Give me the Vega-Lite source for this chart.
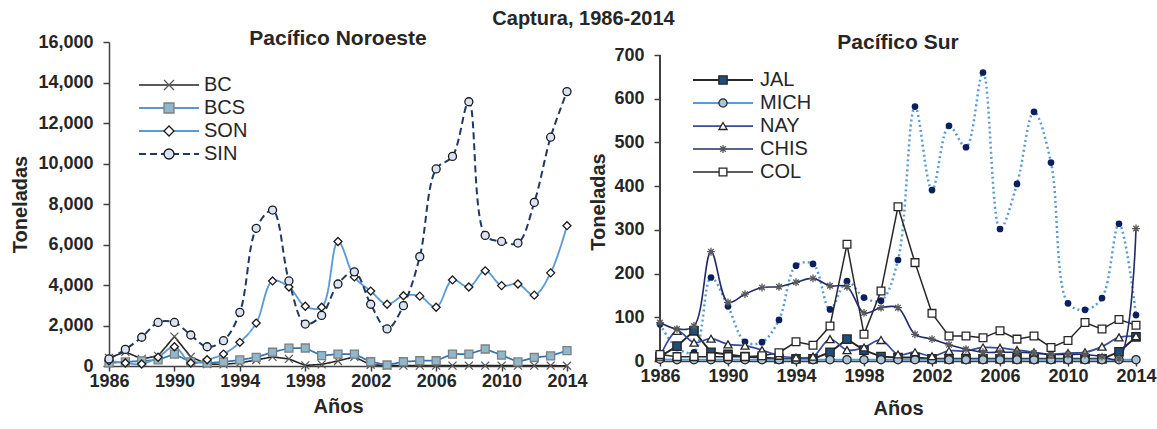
{
  "$schema": "https://vega.github.io/schema/vega-lite/v6.json",
  "padding": {"left": 10, "top": 9, "right": 0, "bottom": 0},
  "background": "white",
  "title": {"text": "Captura, 1986-2014", "anchor": "middle", "fontSize": 20, "font": "Liberation Sans", "fontWeight": "bold", "color": "#262626", "offset": -1},
  "spacing": 0,
  "resolve": {
    "scale": {"color": "independent", "shape": "independent", "fill": "independent", "stroke": "independent", "strokeDash": "independent", "strokeWidth": "independent", "size": "independent"},
    "legend": {"color": "independent", "shape": "independent", "fill": "independent", "stroke": "independent", "strokeDash": "independent", "strokeWidth": "independent", "size": "independent"}
  },
  "config": {
    "view": {"stroke": null},
    "font": "Liberation Sans",
    "title": {"font": "Liberation Sans", "fontWeight": "bold", "fontSize": 21, "color": "#262626"},
    "axis": {"grid": false, "labelFont": "Liberation Sans", "labelFontWeight": "bold", "labelFontSize": 18, "labelColor": "#262626", "titleFont": "Liberation Sans", "titleFontWeight": "bold", "titleFontSize": 20, "titleColor": "#262626", "domainColor": "#404040", "tickColor": "#404040", "domainWidth": 1.5, "tickWidth": 1.5, "tickSize": 6},
    "legend": {"labelFont": "Liberation Sans", "labelFontSize": 20, "labelColor": "#262626", "padding": 0, "rowPadding": 3}
  },
  "datasets": {
    "noroeste": [
      {"state":"BC","year":1986,"value":400},{"state":"BC","year":1987,"value":700},{"state":"BC","year":1988,"value":350},{"state":"BC","year":1989,"value":500},{"state":"BC","year":1990,"value":1450},{"state":"BC","year":1991,"value":450},{"state":"BC","year":1992,"value":100},{"state":"BC","year":1993,"value":80},{"state":"BC","year":1994,"value":150},{"state":"BC","year":1995,"value":300},{"state":"BC","year":1996,"value":450},{"state":"BC","year":1997,"value":350},{"state":"BC","year":1998,"value":30},{"state":"BC","year":1999,"value":80},{"state":"BC","year":2000,"value":250},{"state":"BC","year":2001,"value":450},{"state":"BC","year":2002,"value":60},{"state":"BC","year":2003,"value":20},{"state":"BC","year":2004,"value":20},{"state":"BC","year":2005,"value":20},{"state":"BC","year":2006,"value":20},{"state":"BC","year":2007,"value":20},{"state":"BC","year":2008,"value":20},{"state":"BC","year":2009,"value":20},{"state":"BC","year":2010,"value":20},{"state":"BC","year":2011,"value":20},{"state":"BC","year":2012,"value":20},{"state":"BC","year":2013,"value":20},{"state":"BC","year":2014,"value":10},
      {"state":"BCS","year":1986,"value":150},{"state":"BCS","year":1987,"value":200},{"state":"BCS","year":1988,"value":250},{"state":"BCS","year":1989,"value":300},{"state":"BCS","year":1990,"value":590},{"state":"BCS","year":1991,"value":200},{"state":"BCS","year":1992,"value":150},{"state":"BCS","year":1993,"value":200},{"state":"BCS","year":1994,"value":300},{"state":"BCS","year":1995,"value":430},{"state":"BCS","year":1996,"value":680},{"state":"BCS","year":1997,"value":880},{"state":"BCS","year":1998,"value":890},{"state":"BCS","year":1999,"value":510},{"state":"BCS","year":2000,"value":590},{"state":"BCS","year":2001,"value":590},{"state":"BCS","year":2002,"value":210},{"state":"BCS","year":2003,"value":50},{"state":"BCS","year":2004,"value":210},{"state":"BCS","year":2005,"value":260},{"state":"BCS","year":2006,"value":260},{"state":"BCS","year":2007,"value":590},{"state":"BCS","year":2008,"value":590},{"state":"BCS","year":2009,"value":840},{"state":"BCS","year":2010,"value":540},{"state":"BCS","year":2011,"value":200},{"state":"BCS","year":2012,"value":420},{"state":"BCS","year":2013,"value":500},{"state":"BCS","year":2014,"value":760},
      {"state":"SON","year":1986,"value":260},{"state":"SON","year":1987,"value":150},{"state":"SON","year":1988,"value":100},{"state":"SON","year":1989,"value":430},{"state":"SON","year":1990,"value":950},{"state":"SON","year":1991,"value":150},{"state":"SON","year":1992,"value":310},{"state":"SON","year":1993,"value":590},{"state":"SON","year":1994,"value":1170},{"state":"SON","year":1995,"value":2120},{"state":"SON","year":1996,"value":4200},{"state":"SON","year":1997,"value":3900},{"state":"SON","year":1998,"value":2950},{"state":"SON","year":1999,"value":2900},{"state":"SON","year":2000,"value":6150},{"state":"SON","year":2001,"value":4400},{"state":"SON","year":2002,"value":3700},{"state":"SON","year":2003,"value":3050},{"state":"SON","year":2004,"value":3470},{"state":"SON","year":2005,"value":3450},{"state":"SON","year":2006,"value":2900},{"state":"SON","year":2007,"value":4250},{"state":"SON","year":2008,"value":3900},{"state":"SON","year":2009,"value":4700},{"state":"SON","year":2010,"value":3970},{"state":"SON","year":2011,"value":4050},{"state":"SON","year":2012,"value":3500},{"state":"SON","year":2013,"value":4600},{"state":"SON","year":2014,"value":6930},
      {"state":"SIN","year":1986,"value":350},{"state":"SIN","year":1987,"value":820},{"state":"SIN","year":1988,"value":1420},{"state":"SIN","year":1989,"value":2150},{"state":"SIN","year":1990,"value":2150},{"state":"SIN","year":1991,"value":1530},{"state":"SIN","year":1992,"value":950},{"state":"SIN","year":1993,"value":1250},{"state":"SIN","year":1994,"value":2650},{"state":"SIN","year":1995,"value":6800},{"state":"SIN","year":1996,"value":7700},{"state":"SIN","year":1997,"value":4200},{"state":"SIN","year":1998,"value":2070},{"state":"SIN","year":1999,"value":2500},{"state":"SIN","year":2000,"value":4050},{"state":"SIN","year":2001,"value":4650},{"state":"SIN","year":2002,"value":3050},{"state":"SIN","year":2003,"value":1830},{"state":"SIN","year":2004,"value":2980},{"state":"SIN","year":2005,"value":5400},{"state":"SIN","year":2006,"value":9730},{"state":"SIN","year":2007,"value":10350},{"state":"SIN","year":2008,"value":13050},{"state":"SIN","year":2009,"value":6450},{"state":"SIN","year":2010,"value":6150},{"state":"SIN","year":2011,"value":6070},{"state":"SIN","year":2012,"value":8080},{"state":"SIN","year":2013,"value":11300},{"state":"SIN","year":2014,"value":13550}
    ],
    "sur": [
      {"state":"JAL","year":1986,"value":10},{"state":"JAL","year":1987,"value":34},{"state":"JAL","year":1988,"value":69},{"state":"JAL","year":1989,"value":20},{"state":"JAL","year":1990,"value":15},{"state":"JAL","year":1991,"value":10},{"state":"JAL","year":1992,"value":8},{"state":"JAL","year":1993,"value":5},{"state":"JAL","year":1994,"value":5},{"state":"JAL","year":1995,"value":5},{"state":"JAL","year":1996,"value":20},{"state":"JAL","year":1997,"value":50},{"state":"JAL","year":1998,"value":25},{"state":"JAL","year":1999,"value":10},{"state":"JAL","year":2000,"value":8},{"state":"JAL","year":2001,"value":8},{"state":"JAL","year":2002,"value":5},{"state":"JAL","year":2003,"value":5},{"state":"JAL","year":2004,"value":5},{"state":"JAL","year":2005,"value":5},{"state":"JAL","year":2006,"value":5},{"state":"JAL","year":2007,"value":5},{"state":"JAL","year":2008,"value":5},{"state":"JAL","year":2009,"value":5},{"state":"JAL","year":2010,"value":5},{"state":"JAL","year":2011,"value":5},{"state":"JAL","year":2012,"value":5},{"state":"JAL","year":2013,"value":21},{"state":"JAL","year":2014,"value":55},
      {"state":"MICH","year":1986,"value":4},{"state":"MICH","year":1987,"value":3},{"state":"MICH","year":1988,"value":3},{"state":"MICH","year":1989,"value":3},{"state":"MICH","year":1990,"value":3},{"state":"MICH","year":1991,"value":3},{"state":"MICH","year":1992,"value":3},{"state":"MICH","year":1993,"value":3},{"state":"MICH","year":1994,"value":3},{"state":"MICH","year":1995,"value":3},{"state":"MICH","year":1996,"value":3},{"state":"MICH","year":1997,"value":3},{"state":"MICH","year":1998,"value":3},{"state":"MICH","year":1999,"value":3},{"state":"MICH","year":2000,"value":3},{"state":"MICH","year":2001,"value":3},{"state":"MICH","year":2002,"value":3},{"state":"MICH","year":2003,"value":3},{"state":"MICH","year":2004,"value":3},{"state":"MICH","year":2005,"value":3},{"state":"MICH","year":2006,"value":3},{"state":"MICH","year":2007,"value":3},{"state":"MICH","year":2008,"value":3},{"state":"MICH","year":2009,"value":3},{"state":"MICH","year":2010,"value":3},{"state":"MICH","year":2011,"value":3},{"state":"MICH","year":2012,"value":3},{"state":"MICH","year":2013,"value":3},{"state":"MICH","year":2014,"value":3},
      {"state":"NAY","year":1986,"value":10},{"state":"NAY","year":1987,"value":69},{"state":"NAY","year":1988,"value":42},{"state":"NAY","year":1989,"value":51},{"state":"NAY","year":1990,"value":38},{"state":"NAY","year":1991,"value":35},{"state":"NAY","year":1992,"value":25},{"state":"NAY","year":1993,"value":12},{"state":"NAY","year":1994,"value":8},{"state":"NAY","year":1995,"value":10},{"state":"NAY","year":1996,"value":50},{"state":"NAY","year":1997,"value":25},{"state":"NAY","year":1998,"value":31},{"state":"NAY","year":1999,"value":48},{"state":"NAY","year":2000,"value":15},{"state":"NAY","year":2001,"value":20},{"state":"NAY","year":2002,"value":11},{"state":"NAY","year":2003,"value":23},{"state":"NAY","year":2004,"value":23},{"state":"NAY","year":2005,"value":31},{"state":"NAY","year":2006,"value":30},{"state":"NAY","year":2007,"value":25},{"state":"NAY","year":2008,"value":20},{"state":"NAY","year":2009,"value":15},{"state":"NAY","year":2010,"value":18},{"state":"NAY","year":2011,"value":20},{"state":"NAY","year":2012,"value":33},{"state":"NAY","year":2013,"value":54},{"state":"NAY","year":2014,"value":57},
      {"state":"CHIS","year":1986,"value":88},{"state":"CHIS","year":1987,"value":73},{"state":"CHIS","year":1988,"value":80},{"state":"CHIS","year":1989,"value":250},{"state":"CHIS","year":1990,"value":134},{"state":"CHIS","year":1991,"value":153},{"state":"CHIS","year":1992,"value":168},{"state":"CHIS","year":1993,"value":170},{"state":"CHIS","year":1994,"value":180},{"state":"CHIS","year":1995,"value":189},{"state":"CHIS","year":1996,"value":172},{"state":"CHIS","year":1997,"value":170},{"state":"CHIS","year":1998,"value":110},{"state":"CHIS","year":1999,"value":122},{"state":"CHIS","year":2000,"value":122},{"state":"CHIS","year":2001,"value":61},{"state":"CHIS","year":2002,"value":50},{"state":"CHIS","year":2003,"value":37},{"state":"CHIS","year":2004,"value":27},{"state":"CHIS","year":2005,"value":20},{"state":"CHIS","year":2006,"value":20},{"state":"CHIS","year":2007,"value":20},{"state":"CHIS","year":2008,"value":18},{"state":"CHIS","year":2009,"value":15},{"state":"CHIS","year":2010,"value":15},{"state":"CHIS","year":2011,"value":15},{"state":"CHIS","year":2012,"value":10},{"state":"CHIS","year":2013,"value":5},{"state":"CHIS","year":2014,"value":303},
      {"state":"COL","year":1986,"value":15},{"state":"COL","year":1987,"value":10},{"state":"COL","year":1988,"value":10},{"state":"COL","year":1989,"value":10},{"state":"COL","year":1990,"value":10},{"state":"COL","year":1991,"value":10},{"state":"COL","year":1992,"value":12},{"state":"COL","year":1993,"value":19},{"state":"COL","year":1994,"value":44},{"state":"COL","year":1995,"value":36},{"state":"COL","year":1996,"value":80},{"state":"COL","year":1997,"value":267},{"state":"COL","year":1998,"value":61},{"state":"COL","year":1999,"value":160},{"state":"COL","year":2000,"value":353},{"state":"COL","year":2001,"value":225},{"state":"COL","year":2002,"value":109},{"state":"COL","year":2003,"value":57},{"state":"COL","year":2004,"value":57},{"state":"COL","year":2005,"value":53},{"state":"COL","year":2006,"value":69},{"state":"COL","year":2007,"value":50},{"state":"COL","year":2008,"value":57},{"state":"COL","year":2009,"value":31},{"state":"COL","year":2010,"value":47},{"state":"COL","year":2011,"value":88},{"state":"COL","year":2012,"value":73},{"state":"COL","year":2013,"value":95},{"state":"COL","year":2014,"value":82},
      {"state":"Otro","year":1986,"value":84},{"state":"Otro","year":1987,"value":30},{"state":"Otro","year":1988,"value":20},{"state":"Otro","year":1989,"value":191},{"state":"Otro","year":1990,"value":125},{"state":"Otro","year":1991,"value":44},{"state":"Otro","year":1992,"value":43},{"state":"Otro","year":1993,"value":94},{"state":"Otro","year":1994,"value":218},{"state":"Otro","year":1995,"value":222},{"state":"Otro","year":1996,"value":118},{"state":"Otro","year":1997,"value":183},{"state":"Otro","year":1998,"value":145},{"state":"Otro","year":1999,"value":138},{"state":"Otro","year":2000,"value":231},{"state":"Otro","year":2001,"value":582},{"state":"Otro","year":2002,"value":391},{"state":"Otro","year":2003,"value":538},{"state":"Otro","year":2004,"value":489},{"state":"Otro","year":2005,"value":660},{"state":"Otro","year":2006,"value":302},{"state":"Otro","year":2007,"value":405},{"state":"Otro","year":2008,"value":570},{"state":"Otro","year":2009,"value":454},{"state":"Otro","year":2010,"value":132},{"state":"Otro","year":2011,"value":117},{"state":"Otro","year":2012,"value":144},{"state":"Otro","year":2013,"value":314},{"state":"Otro","year":2014,"value":105}
    ]
  },
  "hconcat": [
    {
      "width": 458,
      "height": 324,
      "title": {"text": "Pacífico Noroeste", "offset": -16},
      "data": {"name": "noroeste"},
      "encoding": {
        "x": {"field": "year", "type": "quantitative", "scale": {"domain": [1986, 2014], "nice": false, "zero": false}, "axis": {"values": [1986, 1990, 1994, 1998, 2002, 2006, 2010, 2014], "format": "d", "title": "Años", "labelFlush": false, "labelPadding": 1, "titlePadding": 6, "tickSize": 5}},
        "y": {"field": "value", "type": "quantitative", "scale": {"domain": [0, 16000], "nice": false}, "axis": {"values": [0, 2000, 4000, 6000, 8000, 10000, 12000, 14000, 16000], "format": ",d", "title": "Toneladas", "labelPadding": 10, "titlePadding": 7, "labelFlush": false}}
      },
      "layer": [
        {
          "transform": [{"filter": {"field": "state", "oneOf": ["BC", "BCS"]}}],
          "mark": {"type": "line", "interpolate": "linear"},
          "encoding": {
            "color": {"field": "state", "type": "nominal", "scale": {"domain": ["BC", "BCS", "SON", "SIN"], "range": ["#262626", "#2e75b6", "#5b9bd5", "#1f3864"]}, "legend": {"orient": "none", "legendX": 50, "legendY": 33, "symbolType": "M-6,0H6", "symbolSize": 100, "labelOffset": 25, "title": null}},
            "strokeDash": {"field": "state", "type": "nominal", "scale": {"domain": ["BC", "BCS", "SON", "SIN"], "range": [[1, 0], [1, 0], [1, 0], [7, 4]]}},
            "strokeWidth": {"field": "state", "type": "ordinal", "scale": {"domain": ["BC", "BCS", "SON", "SIN"], "range": [1.6, 2, 1.5, 2.5]}}
          }
        },
        {
          "transform": [{"filter": {"field": "state", "oneOf": ["SON", "SIN"]}}],
          "mark": {"type": "line", "interpolate": "catmull-rom"},
          "encoding": {
            "color": {"field": "state", "type": "nominal"},
            "strokeDash": {"field": "state", "type": "nominal"},
            "strokeWidth": {"field": "state", "type": "ordinal"}
          }
        },
        {
          "mark": {"type": "point", "filled": true, "opacity": 1, "strokeWidth": 1.3, "size": 64},
          "encoding": {
            "shape": {"field": "state", "type": "nominal", "scale": {"domain": ["SIN", "SON", "BCS", "BC"], "range": ["circle", "diamond", "square", "M-1,-1L1,1M-1,1L1,-1"]}, "legend": {"orient": "none", "legendX": 50, "legendY": 33, "values": ["BC", "BCS", "SON", "SIN"], "labelOpacity": 0, "symbolStrokeWidth": 1.3, "title": null}},
            "fill": {"field": "state", "type": "nominal", "scale": {"domain": ["SIN", "SON", "BCS", "BC"], "range": ["#dae3f3", "#ffffff", "#8fb8cc", "#ffffff"]}},
            "stroke": {"field": "state", "type": "nominal", "scale": {"domain": ["SIN", "SON", "BCS", "BC"], "range": ["#1a1a1a", "#1a1a1a", "#7f7f7f", "#595959"]}}
          }
        }
      ]
    },
    {
      "width": 476,
      "height": 319,
      "title": {"text": "Pacífico Sur", "offset": -11},
      "data": {"name": "sur"},
      "encoding": {
        "x": {"field": "year", "type": "quantitative", "scale": {"domain": [1986, 2014], "nice": false, "zero": false}, "axis": {"values": [1986, 1990, 1994, 1998, 2002, 2006, 2010, 2014], "format": "d", "title": "Años", "labelFlush": false, "labelPadding": 1, "titlePadding": 13, "tickSize": 5}},
        "y": {"field": "value", "type": "quantitative", "scale": {"domain": [0, 729.74], "nice": false}, "axis": {"values": [0, 100, 200, 300, 400, 500, 600, 700], "format": "d", "title": "Toneladas", "labelPadding": 10, "titlePadding": 5, "domain": false, "labelFlush": false}}
      },
      "layer": [
        {
          "mark": {"type": "rule", "color": "#404040", "strokeWidth": 1.5},
          "encoding": {"x": {"datum": 1986, "type": "quantitative"}, "y": {"datum": 0, "type": "quantitative"}, "y2": {"datum": 700}}
        },
        {
          "transform": [{"filter": {"field": "state", "equal": "Otro"}}],
          "mark": {"type": "line", "interpolate": "catmull-rom", "color": "#5b9bd5", "strokeDash": [2, 3], "strokeWidth": 2.5},
          "encoding": {}
        },
        {
          "transform": [{"filter": {"field": "state", "oneOf": ["JAL", "COL"]}}],
          "mark": {"type": "line", "interpolate": "linear"},
          "encoding": {
            "color": {"field": "state", "type": "nominal", "scale": {"domain": ["JAL", "MICH", "NAY", "CHIS", "COL"], "range": ["#262626", "#5b9bd5", "#3a4a9c", "#232b6b", "#262626"]}, "legend": {"orient": "none", "legendX": 53, "legendY": 28, "symbolType": "M-6,0H6", "symbolSize": 100, "labelOffset": 27, "title": null}},
            "strokeWidth": {"field": "state", "type": "ordinal", "scale": {"domain": ["JAL", "MICH", "NAY", "CHIS", "COL"], "range": [2, 1.5, 2, 2, 1.6]}}
          }
        },
        {
          "transform": [{"filter": {"field": "state", "oneOf": ["MICH", "NAY", "CHIS"]}}],
          "mark": {"type": "line", "interpolate": "catmull-rom"},
          "encoding": {
            "color": {"field": "state", "type": "nominal"},
            "strokeWidth": {"field": "state", "type": "ordinal"}
          }
        },
        {
          "transform": [{"filter": {"field": "state", "equal": "Otro"}}],
          "mark": {"type": "point", "filled": true, "opacity": 1, "color": "#0b1f5e", "size": 45},
          "encoding": {}
        },
        {
          "transform": [{"filter": {"field": "state", "oneOf": ["JAL", "MICH", "NAY", "CHIS", "COL"]}}],
          "mark": {"type": "point", "filled": true, "opacity": 1, "strokeWidth": 1.3},
          "encoding": {
            "shape": {"field": "state", "type": "nominal", "scale": {"domain": ["COL", "CHIS", "NAY", "MICH", "JAL"], "range": ["square", "M-1,0H1M0,-1V1M-0.7,-0.7L0.7,0.7M-0.7,0.7L0.7,-0.7", "triangle-up", "circle", "square"]}, "legend": {"orient": "none", "legendX": 53, "legendY": 28, "values": ["JAL", "MICH", "NAY", "CHIS", "COL"], "labelOpacity": 0, "symbolStrokeWidth": 1.3, "title": null}},
            "fill": {"field": "state", "type": "nominal", "scale": {"domain": ["COL", "CHIS", "NAY", "MICH", "JAL"], "range": ["#ffffff", "#7f7f7f", "#ffffff", "#a9c4d6", "#1f4e79"]}},
            "stroke": {"field": "state", "type": "nominal", "scale": {"domain": ["COL", "CHIS", "NAY", "MICH", "JAL"], "range": ["#262626", "#595959", "#262626", "#262626", "#262626"]}},
            "size": {"field": "state", "type": "ordinal", "scale": {"domain": ["COL", "CHIS", "NAY", "MICH", "JAL"], "range": [60, 70, 60, 120, 60]}}
          }
        }
      ]
    }
  ]
}
